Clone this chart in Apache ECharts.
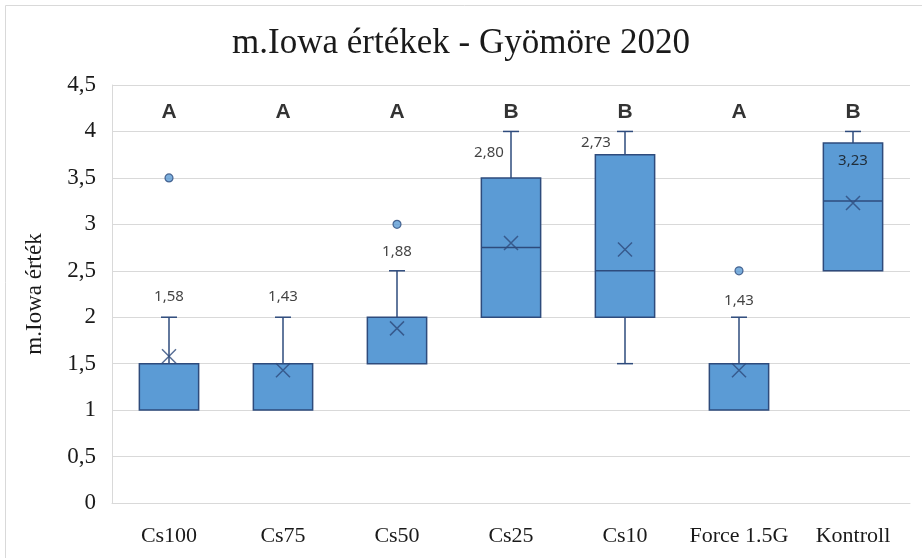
<!DOCTYPE html>
<html>
<head>
<meta charset="utf-8">
<script src="https://cdn.jsdelivr.net/npm/echarts@6/dist/echarts.min.js"></script>
<style>
  html, body { margin: 0; padding: 0; background: #fff; }
  #chart { width: 922px; height: 558px; }
</style>
</head>
<body>
<div id="chart"></div>
<script>
// kezelések
const categories = ['Cs100', 'Cs75', 'Cs50', 'Cs25', 'Cs10', 'Force 1.5G', 'Kontroll']
// [min, Q1, median, Q3, max]
const boxStats = [
  [1, 1, 1, 1.5, 2],
  [1, 1, 1, 1.5, 2],
  [1.5, 1.5, 1.5, 2, 2.5],
  [2, 2, 2.75, 3.5, 4],
  [1.5, 2, 2.5, 3.75, 4],
  [1, 1, 1, 1.5, 2],
  [2.5, 2.5, 3.25, 3.875, 4]
]
const means = [1.58, 1.43, 1.88, 2.80, 2.73, 1.43, 3.23]
// [category index, value]
const outliers = [[0, 3.5], [2, 3], [5, 2.5]]
const groupLetters = ['A', 'A', 'A', 'B', 'B', 'A', 'B']
const letterLevel = 4.25

// label placement (pixels, relative to the mean mark)
const meanLabelOffsets = [[0, -60], [0, -73], [0, -77], [-22, -90], [-29, -107], [0, -69], [0, -42]]

const dark = '#2E4B7C'
const fill = '#5B9BD5'
const grid = '#D9D9D9'
const comma = v => String(v).replace('.', ',')

function renderBox(params, api) {
  const i = api.value(0)
  const v = [1, 2, 3, 4, 5].map(k => api.value(k))
  const band = api.size([1, 0])[0]
  const half = band * 0.26
  const cap = 8
  const cx = api.coord([i, v[0]])[0]
  const y = v.map(val => api.coord([i, val])[1])
  const line = {stroke: dark, lineWidth: 1.5}
  const children = []
  if (v[4] > v[3]) {
    children.push({type: 'line', shape: {x1: cx, y1: y[3], x2: cx, y2: y[4]}, style: line})
    children.push({type: 'line', shape: {x1: cx - cap, y1: y[4], x2: cx + cap, y2: y[4]}, style: line})
  }
  if (v[0] < v[1]) {
    children.push({type: 'line', shape: {x1: cx, y1: y[1], x2: cx, y2: y[0]}, style: line})
    children.push({type: 'line', shape: {x1: cx - cap, y1: y[0], x2: cx + cap, y2: y[0]}, style: line})
  }
  children.push({
    type: 'rect',
    shape: {x: cx - half, y: y[3], width: half * 2, height: y[1] - y[3]},
    style: {fill: fill, stroke: dark, lineWidth: 1.5}
  })
  if (v[2] > v[1] && v[2] < v[3]) {
    children.push({type: 'line', shape: {x1: cx - half, y1: y[2], x2: cx + half, y2: y[2]}, style: line})
  }
  return {type: 'group', children}
}

const myChart = echarts.init(document.getElementById('chart'))
const option = {
  animation: false,
  graphic: [{
    type: 'rect',
    shape: {x: 5.5, y: 5.5, width: 940, height: 580},
    style: {fill: 'none', stroke: grid, lineWidth: 1},
    silent: true
  }],
  title: {
    text: 'm.Iowa értékek - Gyömöre 2020',
    left: 'center',
    top: 21,
    textStyle: {fontFamily: 'Liberation Serif', fontSize: 35, fontWeight: 'normal', color: '#1a1a1a'}
  },
  grid: {left: 112, right: 12, top: 85, bottom: 55, containLabel: false},
  xAxis: {
    type: 'category',
    data: categories,
    axisTick: {show: false},
    axisLine: {lineStyle: {color: grid}},
    axisLabel: {interval: 0, margin: 22, fontFamily: 'Liberation Serif', fontSize: 22, color: '#1a1a1a'}
  },
  yAxis: {
    type: 'value',
    min: 0,
    max: 4.5,
    interval: 0.5,
    name: 'm.Iowa érték',
    nameLocation: 'middle',
    nameGap: 66,
    nameTextStyle: {fontFamily: 'Liberation Serif', fontSize: 23, color: '#1a1a1a'},
    axisLine: {show: true, lineStyle: {color: grid}},
    axisTick: {show: false},
    splitLine: {lineStyle: {color: grid, width: 1}},
    axisLabel: {margin: 16, fontFamily: 'Liberation Serif', fontSize: 23, color: '#1a1a1a', formatter: comma}
  },
  series: [
    {
      type: 'custom',
      renderItem: renderBox,
      encode: {x: 0, y: [1, 2, 3, 4, 5]},
      data: boxStats.map((s, i) => [i, ...s]),
      z: 2
    },
    {
      type: 'scatter',
      data: outliers,
      symbol: 'circle',
      symbolSize: 8,
      itemStyle: {color: fill, borderColor: dark, borderWidth: 1.2},
      z: 3
    },
    {
      type: 'scatter',
      data: means.map((m, i) => ({value: [i, m], label: {offset: meanLabelOffsets[i]}})),
      symbol: 'path://M0,0L10,10M10,0L0,10',
      symbolSize: 14,
      itemStyle: {color: 'none', borderColor: dark, borderWidth: 1.5},
      label: {
        show: true,
        position: 'inside',
        fontFamily: 'Noto Sans',
        fontSize: 15,
        color: '#111',
        formatter: p => p.value[1].toFixed(2).replace('.', ',')
      },
      z: 4
    },
    {
      type: 'scatter',
      data: groupLetters.map((l, i) => [i, letterLevel]),
      symbolSize: 0,
      silent: true,
      label: {
        show: true,
        position: 'inside',
        offset: [0, 4],
        fontFamily: 'Liberation Sans',
        fontWeight: 'bold',
        fontSize: 21,
        color: '#000',
        formatter: p => groupLetters[p.dataIndex]
      },
      z: 5
    }
  ]
}
option && myChart.setOption(option)
window.addEventListener('resize', () => {
  myChart.resize()
})
</script>
</body>
</html>
